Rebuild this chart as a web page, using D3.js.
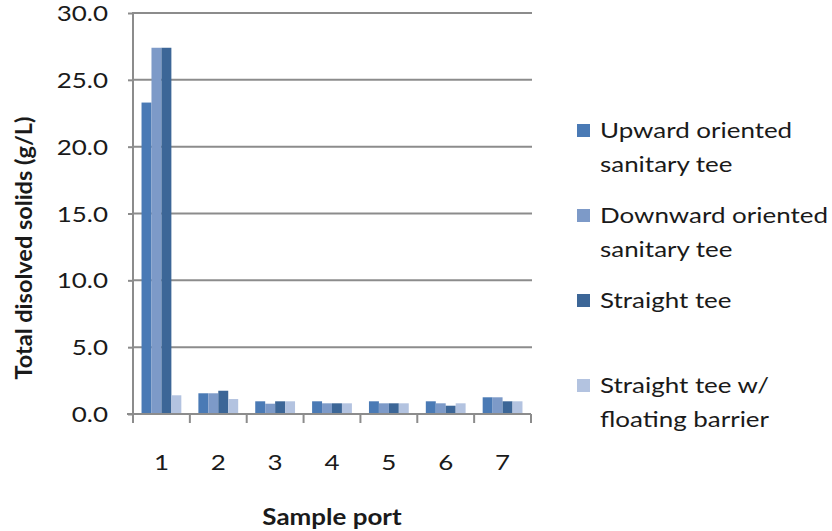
<!DOCTYPE html>
<html>
<head>
<meta charset="utf-8">
<script src="https://cdn.jsdelivr.net/npm/d3@7"></script>
<style>
  body { margin: 0; background: #fff; }
  svg { font-family: Lato, "Open Sans", sans-serif; }
</style>
</head>
<body>
<div></div>
<script>
// Chart data
let ports = ["1", "2", "3", "4", "5", "6", "7"]
let seriesNames = ["Upward oriented sanitary tee", "Downward oriented sanitary tee", "Straight tee", "Straight tee w/ floating barrier"]
let upward = [23.3, 1.55, 0.95, 0.95, 0.95, 0.95, 1.25]
let downward = [27.4, 1.55, 0.77, 0.8, 0.8, 0.8, 1.25]
let straight = [27.4, 1.74, 0.95, 0.8, 0.8, 0.62, 0.95]
let floating = [1.4, 1.12, 0.95, 0.8, 0.8, 0.8, 0.95]
let yTicks = [0, 5, 10, 15, 20, 25, 30]

let colors = ["#4a7ab5", "#7d9ac8", "#3c6697", "#b3c3e0"]
let legendLines = [["Upward oriented", "sanitary tee"], ["Downward oriented", "sanitary tee"], ["Straight tee"], ["Straight tee w/", "floating barrier"]]

let w = 832, h = 531
let plotLeft = 133, plotRight = 531, plotTop = 13, plotBottom = 414
let stretch = 1.18

let svg = d3.select("div").append("svg").attr("width", w).attr("height", h)

// text drawn slightly wide, like the original
function wideText(x, y, str, size, anchor, weight, sx, rot) {
    let g = svg.append("g").attr("transform", "translate(" + x + "," + y + ")" + (rot ? " rotate(" + rot + ")" : "") + " scale(" + sx + ",1)")
    return g.append("text")
        .attr("text-anchor", anchor)
        .attr("font-size", size)
        .attr("font-weight", weight)
        .attr("fill", "#1a1a1a")
        .text(str)
}

let xScale = d3.scaleBand().domain(ports).range([plotLeft, plotRight]).paddingInner(0.3).paddingOuter(0.15)
let yScale = d3.scaleLinear().domain([0, 30]).range([plotBottom, plotTop])
let inner = d3.scaleBand().domain(d3.range(4)).range([0, xScale.bandwidth()])

// gridlines
svg.append("g")
    .selectAll("line")
    .data(yTicks.slice(1))
    .enter()
    .append("line")
    .attr("x1", plotLeft).attr("x2", plotRight + 1)
    .attr("y1", d => yScale(d)).attr("y2", d => yScale(d))
    .attr("stroke", "#8c8c8c").attr("stroke-width", 2)

// bars
let all = [upward, downward, straight, floating]
all.forEach((vals, s) => {
    svg.append("g")
        .selectAll("rect")
        .data(vals)
        .enter()
        .append("rect")
        .attr("x", (d, i) => xScale(ports[i]) + inner(s))
        .attr("width", inner.bandwidth())
        .attr("y", d => yScale(d))
        .attr("height", d => plotBottom - yScale(d))
        .attr("fill", colors[s])
})

// y axis
const yAxis = d3.axisLeft(yScale).tickValues(yTicks).tickFormat("").tickSize(5)
let yg = svg.append("g").attr("transform", "translate(" + plotLeft + ",0)").call(yAxis)
yg.select(".domain").attr("stroke", "#8c8c8c").attr("stroke-width", 2).attr("d", "M0," + (plotTop - 1) + "V" + (plotBottom + 1))
yg.selectAll(".tick line").attr("stroke", "#8c8c8c").attr("stroke-width", 2)
yTicks.forEach(t => wideText(108, yScale(t) + 8, d3.format(".1f")(t), 22, "end", "normal", stretch))

// x axis
let xEdges = d3.range(8).map(i => plotLeft + i * (plotRight - plotLeft) / 7)
svg.append("line").attr("x1", plotLeft - 6).attr("x2", plotRight).attr("y1", plotBottom).attr("y2", plotBottom)
    .attr("stroke", "#8c8c8c").attr("stroke-width", 2)
svg.append("g").selectAll("line").data(xEdges).enter().append("line")
    .attr("x1", d => d).attr("x2", d => d).attr("y1", plotBottom).attr("y2", plotBottom + 9)
    .attr("stroke", "#8c8c8c").attr("stroke-width", 2)
ports.forEach(p => wideText(xScale(p) + xScale.bandwidth() / 2, 470, p, 22, "middle", "normal", stretch))

// axis titles
wideText(332, 525, "Sample port", 22, "middle", "bold", stretch)
wideText(32, 248, "Total disolved  solids (g/L)", 22, "middle", "bold", 1.07, -90)

// legend
let legendY = [130, 215, 300, 385]
legendLines.forEach((lines, i) => {
    svg.append("rect").attr("x", 577).attr("y", legendY[i] - 6).attr("width", 13).attr("height", 13).attr("fill", colors[i])
    lines.forEach((t, j) => wideText(600, legendY[i] + 8 + j * 34, t, 22, "start", "normal", stretch))
})
</script>
</body>
</html>
